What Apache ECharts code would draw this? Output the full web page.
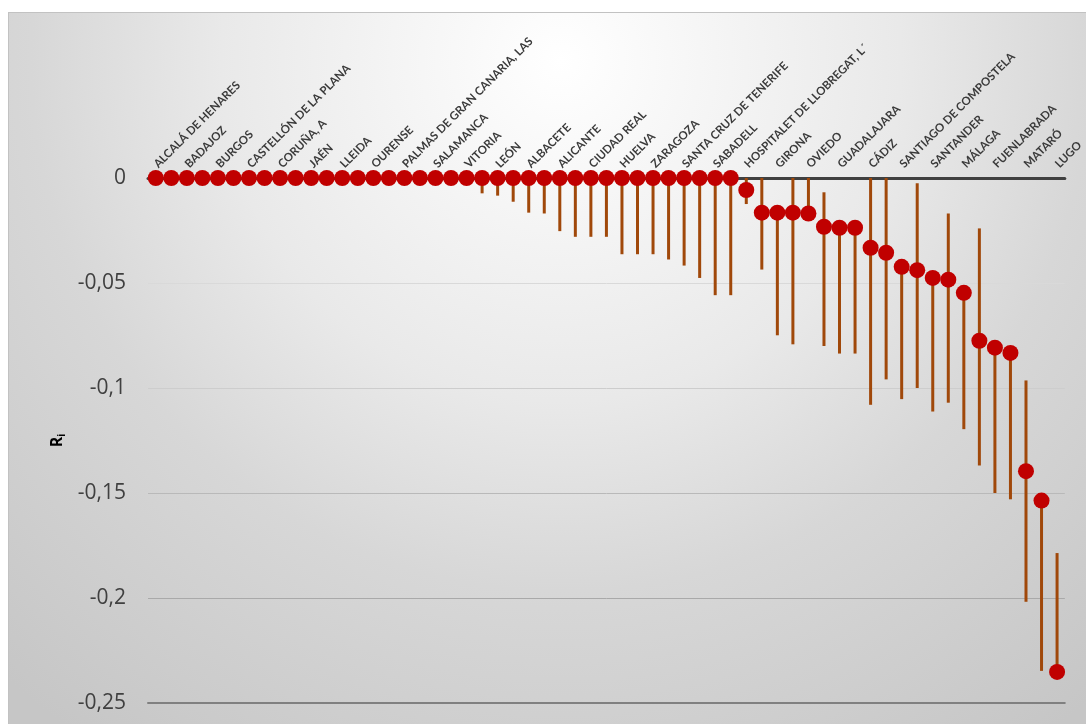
<!DOCTYPE html>
<html>
<head>
<meta charset="utf-8">
<script src="https://cdn.jsdelivr.net/npm/echarts@6/dist/echarts.min.js"></script>
<style>
  html, body { margin: 0; padding: 0; background: #ffffff; }
  #panel {
    position: absolute; left: 8px; top: 12px; width: 1078px; height: 712px;
    border-left: 1px solid #c2c2c2; border-top: 1px solid #c2c2c2;
    box-sizing: border-box;
    background: radial-gradient(circle 830px at 552px 48px,
      #ffffff 0px, #e9e9e9 340px, #d7d7d7 530px, #c6c6c6 830px);
  }
  #chart { position: absolute; left: 0; top: 0; width: 1086px; height: 724px; }
</style>
</head>
<body>
<div id="panel"></div>
<div id="chart"></div>
<script>
// Municipalities, ordered as plotted
const cities = [
  'ALCALÁ DE HENARES', 'ALMERÍA', 'BADAJOZ', 'BILBAO', 'BURGOS', 'CARTAGENA',
  'CASTELLÓN DE LA PLANA', 'CÓRDOBA', 'CORUÑA, A', 'GRANADA', 'JAÉN', 'LEGANÉS',
  'LLEIDA', 'LOGROÑO', 'OURENSE', 'PALENCIA', 'PALMAS DE GRAN CANARIA, LAS', 'PAMPLONA',
  'SALAMANCA', 'TOLEDO', 'VITORIA', 'BADALONA', 'LEÓN', 'ELCHE', 'ALBACETE', 'MURCIA',
  'ALICANTE', 'GETAFE', 'CIUDAD REAL', 'ALCORCÓN', 'HUELVA', 'VALLADOLID', 'ZARAGOZA',
  'TERRASSA', 'SANTA CRUZ DE TENERIFE', 'HUESCA', 'SABADELL', 'MÓSTOLES',
  'HOSPITALET DE LLOBREGAT, L´', 'SEVILLA', 'GIRONA', 'TARRAGONA', 'OVIEDO', 'REUS',
  'GUADALAJARA', 'JEREZ DE LA FRONTERA', 'CÁDIZ', 'ALGECIRAS', 'SANTIAGO DE COMPOSTELA',
  'MARBELLA', 'SANTANDER', 'DOS HERMANAS', 'MÁLAGA', 'PONTEVEDRA', 'FUENLABRADA',
  'LORCA', 'MATARÓ', 'TORREJÓN DE ARDOZ', 'LUGO'
];

// Point estimate R_i for each municipality
const ri = [
  0, 0, 0, 0, 0, 0, 0, 0, 0, 0, 0, 0, 0, 0, 0, 0, 0, 0, 0, 0,
  0, 0, 0, 0, 0, 0, 0, 0, 0, 0, 0, 0, 0, 0, 0, 0, 0, 0,
  -0.0057, -0.0165, -0.0165, -0.0165, -0.0169, -0.0232, -0.0237, -0.0237,
  -0.0332, -0.0356, -0.0423, -0.0439, -0.0476, -0.0484, -0.0547, -0.0775,
  -0.0808, -0.0833, -0.1396, -0.1536, -0.2352
];

// Interval lower bounds
const riLow = [
  0, 0, 0, 0, 0, 0, 0, 0, 0, 0, 0, 0, 0, 0, 0, 0, 0, 0, 0, 0, 0,
  -0.0073, -0.0084, -0.0113, -0.0165, -0.0169, -0.0253, -0.0280, -0.0280, -0.0280,
  -0.0363, -0.0363, -0.0363, -0.0388, -0.0417, -0.0476, -0.0558, -0.0558,
  -0.0124, -0.0436, -0.0749, -0.0792, -0.0169, -0.0800, -0.0836, -0.0836,
  -0.1080, -0.0959, -0.1053, -0.1000, -0.1112, -0.1070, -0.1196, -0.1369,
  -0.1500, -0.1530, -0.2018, -0.2347, -0.2352
];

// Interval upper bounds
const riHigh = [
  0, 0, 0, 0, 0, 0, 0, 0, 0, 0, 0, 0, 0, 0, 0, 0, 0, 0, 0, 0,
  0, 0, 0, 0, 0, 0, 0, 0, 0, 0, 0, 0, 0, 0, 0, 0, 0, 0,
  0, 0, -0.0165, 0, 0, -0.0068, -0.0237, -0.0237,
  0, 0, -0.0423, -0.0025, -0.0476, -0.0169, -0.0547, -0.0240,
  -0.0808, -0.0833, -0.0964, -0.1536, -0.1786
];

// Value axis ticks
const yMin = -0.25, yMax = 0, yStep = 0.05;

const intervals = cities.map((c, i) => [i, riLow[i], riHigh[i]]);

const chart = echarts.init(document.getElementById('chart'), null, { renderer: 'canvas' });

chart.setOption({
  animation: false,
  grid: { left: 148, right: 20, top: 178, bottom: 21 },
  xAxis: [
    {
      type: 'category',
      data: cities,
      position: 'top',
      boundaryGap: true,
      axisLine: { show: true, lineStyle: { color: '#404040', width: 3 } },
      axisTick: { show: false },
      splitLine: { show: false },
      axisLabel: {
        interval: 1,
        rotate: 45,
        margin: 12,
        color: '#3a3a3a',
        fontFamily: 'Lato',
        fontWeight: 'bold',
        fontSize: 11.5
      }
    },
    {
      type: 'category',
      data: cities,
      position: 'bottom',
      axisLine: { show: true, onZero: false, lineStyle: { color: '#808080', width: 2 } },
      axisTick: { show: false },
      axisLabel: { show: false },
      splitLine: { show: false }
    }
  ],
  yAxis: {
    type: 'value',
    min: yMin,
    max: yMax,
    interval: yStep,
    axisLine: { show: false },
    axisTick: { show: false },
    axisLabel: {
      margin: 22,
      color: '#404040',
      fontFamily: 'Open Sans',
      fontSize: 21,
      formatter: v => String(Math.round(v * 100) / 100).replace('.', ',')
    },
    splitLine: {
      show: true,
      lineStyle: {
        width: 1,
        color: ['rgba(0,0,0,0)', '#a9a9a9', '#b9b9b9', '#cdcdcd', '#d9d9d9', 'rgba(0,0,0,0)']
      }
    },
    name: '{r|R}{s|i}',
    nameLocation: 'middle',
    nameRotate: 90,
    nameGap: 80,
    nameTextStyle: {
      rich: {
        r: { fontFamily: 'Open Sans', fontWeight: 'bold', fontSize: 16, color: '#000000' },
        s: { fontFamily: 'Open Sans', fontWeight: 'bold', fontSize: 10, color: '#000000', padding: [9, 0, 0, 0] }
      }
    }
  },
  series: [
    {
      type: 'custom',
      name: 'Intervalo',
      xAxisIndex: 0,
      z: 2,
      data: intervals,
      encode: { x: 0, y: [1, 2] },
      renderItem: function (params, api) {
        const lo = api.coord([api.value(0), api.value(1)]);
        const hi = api.coord([api.value(0), api.value(2)]);
        return {
          type: 'line',
          shape: { x1: lo[0], y1: lo[1], x2: hi[0], y2: hi[1] },
          style: { stroke: '#a0480a', lineWidth: 3, lineCap: 'butt' }
        };
      }
    },
    {
      type: 'scatter',
      name: 'Ri',
      xAxisIndex: 0,
      z: 3,
      data: ri,
      symbol: 'circle',
      symbolSize: 16,
      itemStyle: { color: '#c00000', opacity: 1 }
    }
  ]
});
</script>
</body>
</html>
